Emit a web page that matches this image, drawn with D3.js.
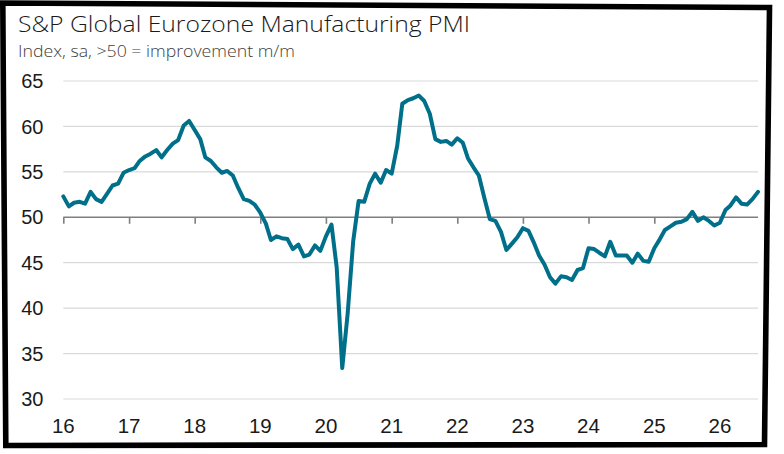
<!DOCTYPE html>
<html>
<head>
<meta charset="utf-8">
<script src="https://cdn.jsdelivr.net/npm/d3@7"></script>
<style>
  html, body { margin: 0; padding: 0; background: #fff; }
  svg { display: block; }
</style>
</head>
<body>
<svg id="chart" width="784" height="454"></svg>
<script>
// ---- Data ----
const title = "S&P Global Eurozone Manufacturing PMI";
const subtitle = "Index, sa, >50 = improvement m/m";
const firstMonth = "2016-01-01";
// Monthly index values, Jan 2016 onwards
const pmiValues = [
  52.3, 51.2, 51.6, 51.7, 51.5, 52.8, 52.0, 51.7, 52.6, 53.5, 53.7, 54.9, // 2016
  55.2, 55.4, 56.2, 56.7, 57.0, 57.4, 56.6, 57.4, 58.1, 58.5, 60.1, 60.6, // 2017
  59.6, 58.6, 56.6, 56.2, 55.5, 54.9, 55.1, 54.6, 53.2, 52.0, 51.8, 51.4, // 2018
  50.5, 49.3, 47.5, 47.9, 47.7, 47.6, 46.5, 47.0, 45.7, 45.9, 46.9, 46.3, // 2019
  47.9, 49.2, 44.5, 33.4, 39.4, 47.4, 51.8, 51.7, 53.7, 54.8, 53.8, 55.2, // 2020
  54.8, 57.9, 62.5, 62.9, 63.1, 63.4, 62.8, 61.4, 58.6, 58.3, 58.4, 58.0, // 2021
  58.7, 58.2, 56.5, 55.5, 54.6, 52.1, 49.8, 49.6, 48.4, 46.4, 47.1, 47.8, // 2022
  48.8, 48.5, 47.3, 45.8, 44.8, 43.4, 42.7, 43.5, 43.4, 43.1, 44.2, 44.4, // 2023
  46.6, 46.5, 46.1, 45.7, 47.3, 45.8, 45.8, 45.8, 45.0, 46.0, 45.2, 45.1, // 2024
  46.6, 47.6, 48.6, 49.0, 49.4, 49.5, 49.8, 50.6, 49.6, 50.0, 49.6, 49.1, // 2025
  49.4, 50.8, 51.3, 52.2, 51.5, 51.4, 52.0, 52.8                          // 2026
];
const yTicks = [30, 35, 40, 45, 50, 55, 60, 65];
const xTickYears = [2016, 2017, 2018, 2019, 2020, 2021, 2022, 2023, 2024, 2025, 2026];
const xTickLabels = ["16", "17", "18", "19", "20", "21", "22", "23", "24", "25", "26"];

// ---- Build ----
(function () {
const svg = d3.select("#chart");
const start = new Date(firstMonth + "T00:00:00");
const series = pmiValues.map((v, i) => ({ date: d3.timeMonth.offset(start, i), value: v }));

const plotLeft = 63.3, plotRight = 758, plotTop = 81, plotBottom = 399;
const x = d3.scaleTime()
  .domain([start, series[series.length - 1].date])
  .range([plotLeft, plotRight]);
const y = d3.scaleLinear().domain([30, 65]).range([plotBottom, plotTop]);

const font = "'Liberation Sans', Arial, sans-serif";
const titleFont = "'Open Sans', Roboto, 'Liberation Sans', sans-serif";

// frame
svg.append("path")
  .attr("d", "M2.8,3 L769.5,7.5 L764.5,444.5 L5.8,445.5 Z")
  .attr("fill", "none").attr("stroke", "#000").attr("stroke-width", 5.6)
  .attr("stroke-linejoin", "miter");

// title
svg.append("text").attr("x", 18).attr("y", 32)
  .attr("font-family", titleFont).attr("font-weight", 300)
  .attr("font-size", 21.5).attr("fill", "#1a1a1a")
  .attr("textLength", 452).attr("lengthAdjust", "spacingAndGlyphs")
  .text(title);
svg.append("text").attr("x", 18).attr("y", 57)
  .attr("font-family", titleFont).attr("font-weight", 300)
  .attr("font-size", 15.5).attr("fill", "#404040")
  .attr("textLength", 277).attr("lengthAdjust", "spacingAndGlyphs")
  .text(subtitle);

// gridlines
svg.append("g").selectAll("line")
  .data(yTicks.filter(d => d !== 50))
  .join("line")
  .attr("x1", plotLeft).attr("x2", plotRight)
  .attr("y1", d => y(d)).attr("y2", d => y(d))
  .attr("stroke", "#d9d9d9").attr("stroke-width", 1.2);

// y labels
svg.append("g").selectAll("text")
  .data(yTicks).join("text")
  .attr("x", 43.5).attr("y", d => y(d))
  .attr("dy", "0.36em").attr("text-anchor", "end")
  .attr("font-family", font).attr("font-size", 20).attr("fill", "#1a1a1a")
  .text(d => d);

// x axis at 50 with ticks
const xTicks = xTickYears.map(yr => new Date(yr, 0, 1));
const axis = d3.axisBottom(x).tickValues(xTicks).tickSize(6.5).tickFormat("");
const axisG = svg.append("g").attr("transform", `translate(0,${y(50)})`).call(axis);
axisG.select(".domain").attr("stroke", "#7f7f7f").attr("stroke-width", 1.6)
  .attr("d", `M${plotLeft},0H${plotRight}`);
axisG.selectAll(".tick line").attr("stroke", "#7f7f7f").attr("stroke-width", 1.6);

// x labels
svg.append("g").selectAll("text")
  .data(xTicks).join("text")
  .attr("x", d => x(d)).attr("y", 432.5)
  .attr("text-anchor", "middle")
  .attr("font-family", font).attr("font-size", 20.5).attr("fill", "#1a1a1a")
  .text((d, i) => xTickLabels[i]);

// line
const line = d3.line().x(d => x(d.date)).y(d => y(d.value)).curve(d3.curveLinear);
svg.append("path").datum(series)
  .attr("d", line).attr("fill", "none")
  .attr("stroke", "#00708a").attr("stroke-width", 4)
  .attr("stroke-linejoin", "round").attr("stroke-linecap", "round");
})();
</script>
</body>
</html>
